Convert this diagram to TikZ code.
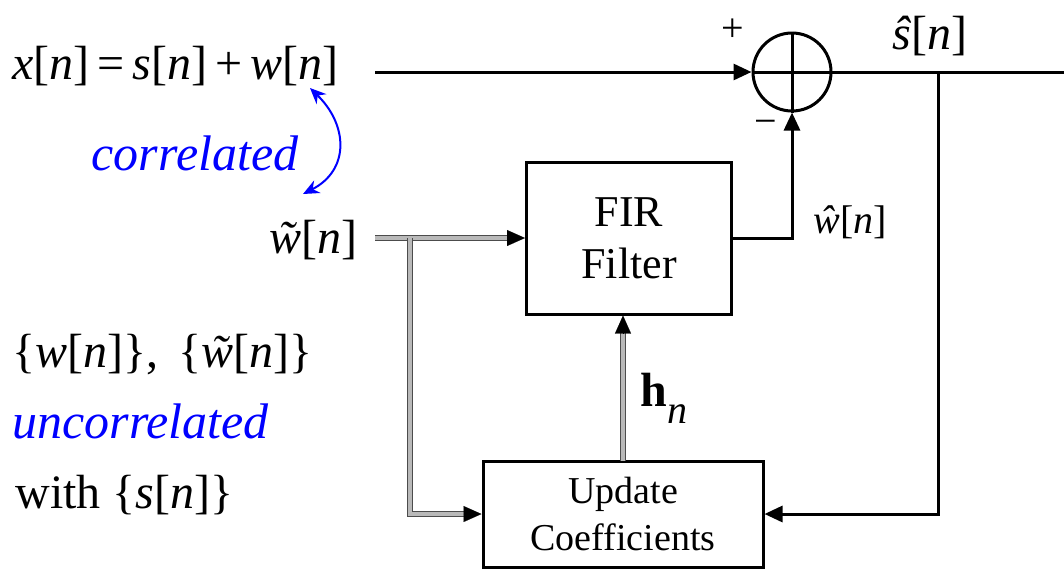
\documentclass[tikz,border=0pt]{standalone}
\usepackage{fontspec}
\setmainfont{Liberation Serif}
\usetikzlibrary{arrows.meta,calc}
\newcommand\myit[1]{\textit{#1}}
\newcommand\mywtil{{\itshape\makebox[0pt][l]{\hspace{0.2em}\raisebox{-0.02em}{\char"02DC}}w}}
\begin{document}
\begin{tikzpicture}[x=0.5pt,y=-0.5pt,
  line/.style={line width=1.5pt},
  arr/.style={line width=1.5pt,-{Triangle[length=9pt,width=8pt]}},
  dbl/.style={line width=0.6pt,draw=black!70,double=gray!55,double distance=1.6pt},
  tip/.style={line width=0.1pt,-{Triangle[length=9pt,width=8pt]}},
  blockbox/.style={draw,line width=1.5pt,align=center,inner sep=0pt},
  bigtxt/.style={font=\fontsize{24}{28}\selectfont,inner sep=0pt},
  bluetxt/.style={font=\fontsize{25}{29}\selectfont\itshape,text=blue,inner sep=0pt}]
\useasboundingbox (0,0) rectangle (1064,574);

% blocks
\node[circle,draw,line width=1.5pt,minimum size=39pt,inner sep=0pt] (sum) at (792,72) {};
\draw[line] (sum.north) -- (sum.south);
\draw[line] (sum.west) -- (sum.east);
\node[blockbox,minimum width=102.5pt,minimum height=76pt,font=\fontsize{22}{26}\selectfont] (fir) at (629,238) {FIR\\Filter};
\node[blockbox,minimum width=140pt,minimum height=53pt,font=\fontsize{19}{23.5}\selectfont] (upd) at (623,514) {Update\\Coefficients};

% left texts
\node[bigtxt,anchor=west] (xeq) at (12,66) {\myit{x}[\myit{n}]\,=\,\myit{s}[\myit{n}]\,+\,\myit{w}[\myit{n}]};
\node[bluetxt] (corr) at (195,153) {correlated};
\node[bigtxt] (wt) at (313,240) {\mywtil[\myit{n}]};
\node[bigtxt,anchor=west] (sets) at (12,355) {\{\myit{w}[\myit{n}]\}, \,\{\mywtil[\myit{n}]\}};
\node[bluetxt,anchor=west] (unc) at (12,421) {uncorrelated};
\node[bigtxt,anchor=west] (with) at (15,495) {with \{\myit{s}[\myit{n}]\}};

% labels
\node[font=\fontsize{24}{28}\selectfont,inner sep=0pt] (shat) at (930,36) {\myit{ŝ}[\myit{n}]};
\node[font=\fontsize{20}{24}\selectfont,inner sep=0pt] (what) at (850,222) {\myit{ŵ}[\myit{n}]};
\node[font=\fontsize{20}{24}\selectfont,inner sep=0pt] (plus) at (733,30) {+};
\node[font=\fontsize{20}{24}\selectfont,inner sep=0pt] (minus) at (766,127) {−};
\node[font=\fontsize{24}{28}\selectfont,inner sep=0pt] (hn) at (664,398) {\textbf{h}\raisebox{-0.35em}{\fontsize{20}{24}\selectfont\itshape n}};

% coordinates
\coordinate (xstart) at (375,72);
\coordinate (out) at (1064,72);
\coordinate (tap) at (938,72);
\coordinate (tapd) at (938,514);
\coordinate (wstart) at (375,238);
\coordinate (br) at (410,238);
\coordinate (hb) at (623,461);
\coordinate (ca) at (310,88);
\coordinate (cb) at (303,194);

% connectors
\draw[arr] (xstart) -- (sum.west);
\draw[line] (sum.east) -- (out);
\draw[arr] (tap) -- (tapd) -- (upd.east);
\draw[arr] (fir.east) -| (sum.south);

\draw[dbl,shorten >=8.5pt] (wstart) -- (fir.west);
\draw[tip] ($(fir.west)+(-18,0)$) -- (fir.west);
\draw[dbl,shorten >=8.5pt] (br) |- (upd.west);
\draw[tip] ($(upd.west)+(-18,0)$) -- (upd.west);
\draw[dbl,shorten >=8.5pt] (hb) -- (hb |- fir.south);
\draw[tip] ($(hb |- fir.south)+(0,18)$) -- (hb |- fir.south);

% correlated arrow
\draw[blue,line width=1pt,{Stealth[length=8pt,width=7pt]}-{Stealth[length=8pt,width=7pt]}] (ca) .. controls (348,125) and (350,170) .. (cb);
\end{tikzpicture}
\end{document}
